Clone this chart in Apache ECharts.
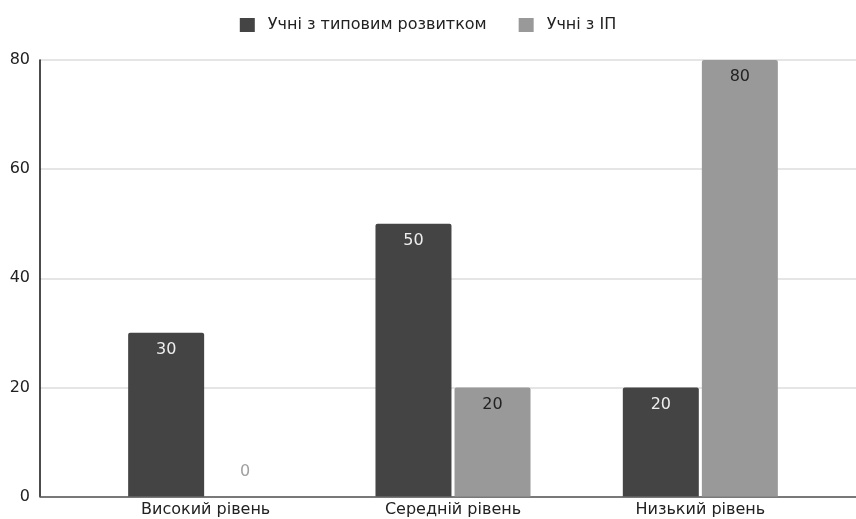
<!DOCTYPE html>
<html><head><meta charset="utf-8">
<script src="https://cdn.jsdelivr.net/npm/echarts@6/dist/echarts.min.js"></script>
<style>html,body{margin:0;padding:0;background:#fff}#c{width:856px;height:519px}</style>
</head><body><div id="c"></div>
<script>
const categories = ['Високий рівень', 'Середній рівень', 'Низький рівень'];
const seriesNames = ['Учні з типовим розвитком', 'Учні з ІП'];
const typicalValues = [30, 50, 20];
const ipValues = [0, 20, 80];
const yTicks = [0, 20, 40, 60, 80];

const chart = echarts.init(document.getElementById('c'));
const font = '"DejaVu Sans", sans-serif';
const ipData = ipValues.map(v => v === 0
  ? { value: v, label: { position: 'top', distance: 17, color: '#a0a0a0' } }
  : v);
chart.setOption({
  animation: false,
  legend: {
    top: 12, left: 'center', itemWidth: 15, itemHeight: 14, itemGap: 32,
    icon: 'rect',
    textStyle: { fontFamily: font, fontSize: 16, color: '#222', padding: [0, 0, 0, 8] },
    data: seriesNames
  },
  grid: [
    { left: 40, right: 0, top: 60, bottom: 22.5 },
    { left: 82, right: 32, top: 60, bottom: 22.5 }
  ],
  xAxis: [
    { gridIndex: 0, type: 'category', data: [''], axisTick: { show: false }, axisLabel: { show: false },
      axisLine: { show: true, lineStyle: { color: '#555', width: 1.5 } } },
    { gridIndex: 1, type: 'category', data: categories, axisTick: { show: false },
      axisLine: { show: false },
      axisLabel: { fontFamily: font, fontSize: 16, color: '#222', margin: 5 } }
  ],
  yAxis: [
    { gridIndex: 0, type: 'value', min: yTicks[0], max: yTicks[yTicks.length - 1], interval: 20,
      axisLine: { show: true, lineStyle: { color: '#111', width: 1.5 } },
      axisTick: { show: false },
      splitLine: { lineStyle: { color: '#dcdcdc', width: 1.5 } },
      axisLabel: { fontFamily: font, fontSize: 16, color: '#222', margin: 10 } },
    { gridIndex: 1, type: 'value', min: yTicks[0], max: yTicks[yTicks.length - 1], interval: 20, show: false,
      splitLine: { show: false } }
  ],
  series: [
    { name: seriesNames[0], type: 'bar', xAxisIndex: 1, yAxisIndex: 1, data: typicalValues,
      barWidth: 76, barGap: '4%',
      itemStyle: { color: '#444444', borderRadius: [2, 2, 0, 0] },
      label: { show: true, position: 'insideTop', distance: 9, fontFamily: font, fontSize: 16, color: '#eeeeee' } },
    { name: seriesNames[1], type: 'bar', xAxisIndex: 1, yAxisIndex: 1, data: ipData,
      barWidth: 76, barGap: '4%',
      itemStyle: { color: '#999999', borderRadius: [2, 2, 0, 0] },
      label: { show: true, position: 'insideTop', distance: 9, fontFamily: font, fontSize: 16, color: '#222' } }
  ]
});
</script></body></html>
